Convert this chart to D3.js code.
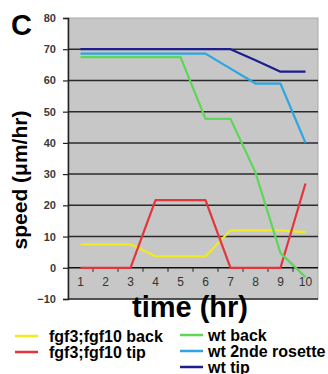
<!DOCTYPE html>
<html>
<head>
<meta charset="utf-8">
<script src="https://cdn.jsdelivr.net/npm/d3@7"></script>
<style>
  body { margin: 0; background: #fff; }
  svg { display: block; font-family: "Liberation Sans", Arial, sans-serif; }
</style>
</head>
<body>
<svg width="328" height="374"></svg>
<script>
// chart data
const hours = [1, 2, 3, 4, 5, 6, 7, 8, 9, 10];
const yTicks = [-10, 0, 10, 20, 30, 40, 50, 60, 70, 80];

const fgfBack = [7.5, 7.5, 7.5, 3.7, 3.7, 3.7, 12, 12, 12, 11.4];
const fgfTip = [0, 0, 0, 21.7, 21.7, 21.7, 0, 0, 0, 27];
const wtBack = [67.5, 67.5, 67.5, 67.5, 67.5, 47.7, 47.7, 30.5, 4.7, -3];
const wtRosette = [68.6, 68.6, 68.6, 68.6, 68.6, 68.6, 63.8, 59, 59, 40];
const wtTip = [70, 70, 70, 70, 70, 70, 70, 66.5, 62.8, 62.8];

const seriesNames = ["fgf3;fgf10 back", "fgf3;fgf10 tip", "wt back", "wt 2nde rosette", "wt tip"];
const seriesValues = [fgfBack, fgfTip, wtBack, wtRosette, wtTip];
const seriesColors = ["#f2ea1e", "#e2363c", "#5ed65a", "#2ba6e0", "#1d1d8c"];

const svg = d3.select("svg");
const plotL = 68, plotR = 318, plotT = 18, plotB = 299;

const x = d3.scaleBand().domain(hours).range([plotL, plotR]);
const y = d3.scaleLinear().domain([-10, 80]).range([plotB, plotT]);

// plot background
svg.append("rect")
    .attr("x", plotL).attr("y", plotT)
    .attr("width", plotR - plotL).attr("height", plotB - plotT)
    .attr("fill", "#c7c7c7")
    .attr("stroke", "#a9a9a9")
    .attr("stroke-width", 1);

// gridlines
svg.append("g")
    .selectAll("line")
    .data(yTicks.filter(d => d !== 80))
    .join("line")
    .attr("x1", plotL).attr("x2", plotR)
    .attr("y1", d => y(d)).attr("y2", d => y(d))
    .attr("stroke", d => d === 0 ? "#111" : "#2b2b2b")
    .attr("stroke-width", 1.5);

// y axis
const yAxis = svg.append("g")
    .attr("transform", `translate(${plotL},0)`)
    .call(d3.axisLeft(y).tickValues(yTicks).tickSize(5).tickPadding(7));
yAxis.select(".domain").attr("stroke", "#222").attr("stroke-width", 1.5);
yAxis.selectAll(".tick line").attr("stroke", "#222").attr("stroke-width", 1.2);
yAxis.selectAll("text")
    .attr("fill", "#3a3a3a")
    .style("font-size", "11px")
    .style("font-weight", "bold");

// x axis along the zero line
const xAxis = svg.append("g")
    .attr("transform", `translate(0,${y(0)})`)
    .call(d3.axisBottom(x).tickSize(0).tickPadding(10));
xAxis.select(".domain").remove();
xAxis.selectAll("text")
    .attr("fill", "#333")
    .style("font-size", "12px");
svg.append("g")
    .selectAll("line")
    .data(hours.slice(1))
    .join("line")
    .attr("x1", d => x(d)).attr("x2", d => x(d))
    .attr("y1", y(0)).attr("y2", y(0) + 4)
    .attr("stroke", "#222")
    .attr("stroke-width", 1);

// series lines
const line = d3.line()
    .x((d, i) => x(hours[i]) + x.bandwidth() / 2)
    .y(d => y(d));

svg.append("g")
    .selectAll("path")
    .data(seriesValues)
    .join("path")
    .attr("d", d => line(d))
    .attr("fill", "none")
    .attr("stroke", (d, i) => seriesColors[i])
    .attr("stroke-width", 2.2)
    .attr("stroke-linejoin", "round");

// titles
svg.append("text")
    .attr("x", 11).attr("y", 35)
    .style("font-size", "29px")
    .style("font-weight", "bold")
    .text("C");

svg.append("text")
    .attr("transform", "translate(27,180) rotate(-90)")
    .attr("text-anchor", "middle")
    .style("font-size", "21px")
    .style("font-weight", "bold")
    .text("speed (μm/hr)");

svg.append("text")
    .attr("x", 190).attr("y", 317)
    .attr("text-anchor", "middle")
    .style("font-size", "29px")
    .style("font-weight", "bold")
    .text("time (hr)");

// legend
const legendPos = [[15, 336], [15, 352], [180, 335], [180, 351], [180, 367]];
const legend = svg.append("g")
    .selectAll("g")
    .data(seriesNames)
    .join("g")
    .attr("transform", (d, i) => `translate(${legendPos[i][0]},${legendPos[i][1]})`);
legend.append("line")
    .attr("x1", 0).attr("x2", 23)
    .attr("stroke", (d, i) => seriesColors[i])
    .attr("stroke-width", 2.5);
legend.append("text")
    .attr("x", (d, i) => i < 2 ? 34 : 28)
    .attr("y", 5.5)
    .style("font-size", "16px")
    .style("font-weight", "bold")
    .text(d => d);
</script>
</body>
</html>
